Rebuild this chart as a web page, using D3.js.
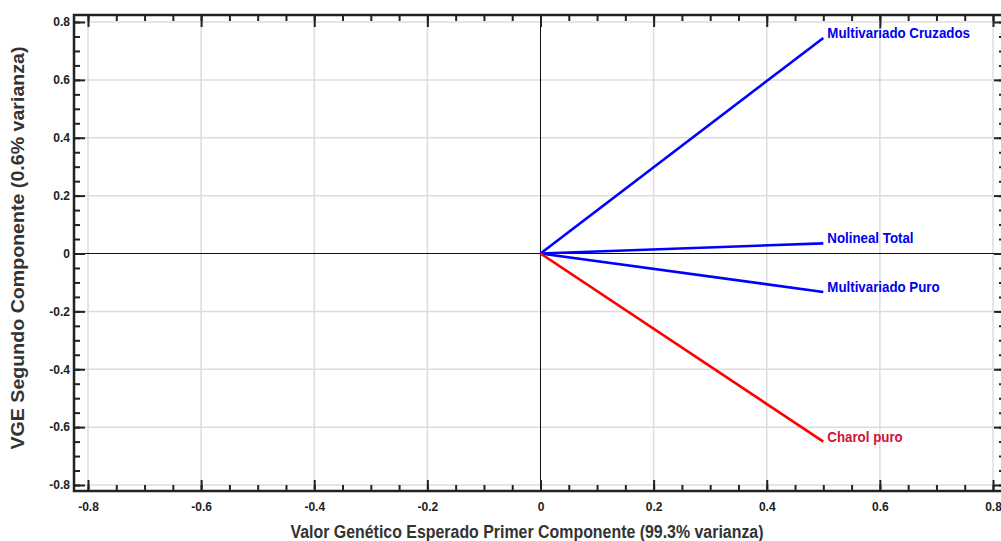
<!DOCTYPE html>
<html>
<head>
<meta charset="utf-8">
<script src="https://cdn.jsdelivr.net/npm/d3@7"></script>
<style>
  html, body { margin: 0; padding: 0; background: #fff; }
  svg { display: block; }
</style>
</head>
<body>
<svg id="chart"></svg>
<script>
// data
const vectorNames = ["Multivariado Cruzados", "Nolineal Total", "Multivariado Puro", "Charol puro"];
const pc1 = [0.5, 0.5, 0.5, 0.5];
const pc2 = [0.745, 0.035, -0.133, -0.65];
const tickValues = [-0.8, -0.6, -0.4, -0.2, 0, 0.2, 0.4, 0.6, 0.8];
const tickLabels = ["-0.8", "-0.6", "-0.4", "-0.2", "0", "0.2", "0.4", "0.6", "0.8"];
const xTitle = "Valor Genético Esperado Primer Componente (99.3% varianza)";
const yTitle = "VGE Segundo Componente (0.6% varianza)";

const width = 1001, height = 541;
const frame = { left: 74, right: 1005, top: 15, bottom: 491 };
const font = "'Liberation Sans', Arial, sans-serif";

const lineColor = ["#0000ff", "#0000ff", "#0000ff", "#ff0000"];
const textColor = ["#0000ee", "#0000ee", "#0000ee", "#d0103a"];

const svg = d3.select("#chart").attr("width", width).attr("height", height);

const x = d3.scaleLinear().domain([-0.8, 0.8]).range([88, 993]);
const y = d3.scaleLinear().domain([-0.8, 0.8]).range([485, 22]);
const minor = d3.range(-16, 17).map(d => d * 0.05);
const fmt = d => tickLabels[tickValues.findIndex(v => Math.abs(v - d) < 1e-9)];

// grid
const grid = svg.append("g").attr("stroke", "#dcdcdc").attr("stroke-width", 1.5);
grid.selectAll("line.gx")
    .data(tickValues.filter(d => d !== 0))
    .join("line")
    .attr("class", "gx")
    .attr("x1", d => x(d)).attr("x2", d => x(d))
    .attr("y1", frame.top).attr("y2", frame.bottom);
grid.selectAll("line.gy")
    .data(tickValues.filter(d => d !== 0))
    .join("line")
    .attr("class", "gy")
    .attr("y1", d => y(d)).attr("y2", d => y(d))
    .attr("x1", frame.left).attr("x2", frame.right);

// zero lines
svg.append("line")
    .attr("x1", x(0)).attr("x2", x(0))
    .attr("y1", frame.top).attr("y2", frame.bottom)
    .attr("stroke", "#111").attr("stroke-width", 1);
svg.append("line")
    .attr("x1", frame.left).attr("x2", frame.right)
    .attr("y1", y(0)).attr("y2", y(0))
    .attr("stroke", "#111").attr("stroke-width", 1);

// axes: major + minor ticks pointing inward
function styleAxis(g) {
    g.select(".domain").remove();
    g.selectAll(".tick line").attr("stroke", "#222").attr("stroke-width", 2);
    g.selectAll(".tick text")
        .attr("fill", "#222")
        .attr("font-family", font)
        .attr("font-weight", "bold")
        .attr("font-size", 12);
}

svg.append("g")
    .attr("transform", `translate(0,${frame.bottom})`)
    .call(d3.axisBottom(x).tickValues(tickValues).tickFormat(fmt).tickSize(-11).tickPadding(11))
    .call(styleAxis);
svg.append("g")
    .attr("transform", `translate(0,${frame.bottom})`)
    .call(d3.axisBottom(x).tickValues(minor).tickFormat("").tickSize(-6))
    .call(styleAxis);

svg.append("g")
    .attr("transform", `translate(${frame.left},0)`)
    .call(d3.axisLeft(y).tickValues(tickValues).tickFormat(fmt).tickSize(-11).tickPadding(4))
    .call(styleAxis);
svg.append("g")
    .attr("transform", `translate(${frame.left},0)`)
    .call(d3.axisLeft(y).tickValues(minor).tickFormat("").tickSize(-6))
    .call(styleAxis);

svg.append("g")
    .attr("transform", `translate(0,${frame.top})`)
    .call(d3.axisTop(x).tickValues(tickValues).tickFormat("").tickSize(-12))
    .call(styleAxis);
svg.append("g")
    .attr("transform", `translate(0,${frame.top})`)
    .call(d3.axisTop(x).tickValues(minor).tickFormat("").tickSize(-6))
    .call(styleAxis);

svg.append("g")
    .attr("transform", `translate(${frame.right},0)`)
    .call(d3.axisRight(y).tickValues(tickValues).tickFormat("").tickSize(-11))
    .call(styleAxis);
svg.append("g")
    .attr("transform", `translate(${frame.right},0)`)
    .call(d3.axisRight(y).tickValues(minor).tickFormat("").tickSize(-6))
    .call(styleAxis);

// frame
svg.append("path")
    .attr("d", `M${frame.left},${frame.bottom}V${frame.top}H${frame.right}V${frame.bottom}Z`)
    .attr("fill", "none")
    .attr("stroke", "#222")
    .attr("stroke-width", 2.5);

// vectors
svg.append("g")
    .attr("stroke-width", 2.6)
    .attr("stroke-linecap", "butt")
    .selectAll("line")
    .data(vectorNames)
    .join("line")
    .attr("x1", x(0)).attr("y1", y(0))
    .attr("x2", (d, i) => x(pc1[i]))
    .attr("y2", (d, i) => y(pc2[i]))
    .attr("stroke", (d, i) => lineColor[i]);

svg.append("g")
    .selectAll("text")
    .data(vectorNames)
    .join("text")
    .attr("x", (d, i) => x(pc1[i]) + 4)
    .attr("y", (d, i) => y(pc2[i]))
    .attr("fill", (d, i) => textColor[i])
    .attr("font-family", font)
    .attr("font-weight", "bold")
    .attr("font-size", 14)
    .text(d => d)
    .each(function() {
        // reference labels are set slightly condensed
        const w = this.getComputedTextLength();
        d3.select(this).attr("textLength", w * 0.95).attr("lengthAdjust", "spacingAndGlyphs");
    });

// axis titles
svg.append("text")
    .attr("x", 527).attr("y", 538)
    .attr("text-anchor", "middle")
    .attr("fill", "#333")
    .attr("font-family", font)
    .attr("font-weight", "bold")
    .attr("font-size", 18)
    .attr("textLength", 473)
    .attr("lengthAdjust", "spacingAndGlyphs")
    .text(xTitle);

svg.append("text")
    .attr("transform", "translate(24,248) rotate(-90)")
    .attr("text-anchor", "middle")
    .attr("fill", "#333")
    .attr("font-family", font)
    .attr("font-weight", "bold")
    .attr("font-size", 18)
    .attr("textLength", 403)
    .attr("lengthAdjust", "spacingAndGlyphs")
    .text(yTitle);
</script>
</body>
</html>
